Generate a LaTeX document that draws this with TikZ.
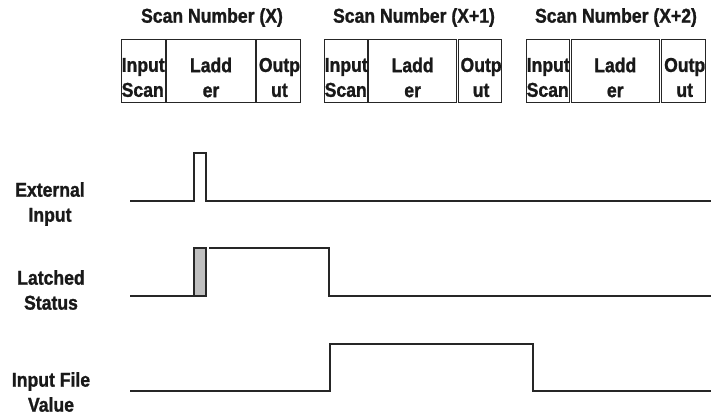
\documentclass[tikz,border=0pt]{standalone}
\usepackage{fontspec}
\setmainfont[FakeStretch=0.88, BoldFont={Liberation Sans Bold}, BoldFeatures={FakeStretch=0.88, FakeBold=1.2}]{Liberation Sans}
\newcommand{\lblfont}{\fontsize{20bp}{25bp}\selectfont\bfseries}
\begin{document}
\begin{tikzpicture}[x=1bp,y=-1bp,
  lbl/.style={font=\lblfont, align=center, inner sep=0pt, text=black!90},
  cellbox/.style={draw=black!85, line width=1bp, inner sep=0pt, minimum height=63bp},
  wave/.style={draw=black!85, line width=1.3bp},
  latchfill/.style={fill=black!25, draw=black!85, line width=1.3bp}]
\useasboundingbox (0,0) rectangle (711,415);

% titles
\node[lbl] (tx)  at (212,17.5) {Scan Number (X)};
\node[lbl] (tx1) at (414,17.5) {Scan Number (X+1)};
\node[lbl] (tx2) at (616,17.5) {Scan Number (X+2)};

% scan boxes
\foreach \n/\a/\b/\c/\d in {1/121/166/256/301, 2/324/368/458/503, 3/526/571/661/708}{
  \node[cellbox, minimum width=\b-\a bp, anchor=north west] (in\n) at (\a,39) {};
  \node[cellbox, minimum width=\c-\b bp, anchor=north west] (ld\n) at (\b,39) {};
  \node[cellbox, minimum width=\d-\c bp, anchor=north west] (ou\n) at (\c,39) {};
  \node[lbl, align=left, anchor=west] (tin\n) at ([xshift=0.5bp]in\n.west |- 0,77.5) {Input\\Scan};
  \node[lbl] (tld\n) at (ld\n.center |- 0,77.5) {Ladd\\er};
  \node[lbl] (tou\n) at ([xshift=1bp]ou\n.center |- 0,77.5) {Outp\\ut};
}

% signal labels
\node[lbl] (lext) at (50,204) {External\\Input};
\node[lbl] (llat) at (51,290) {Latched\\Status};
\node[lbl] (lifv) at (51,392) {Input File\\Value};

% External Input
\draw[wave] (130,201) -- (194,201) -- (194,153) -- (206,153) -- (206,201) -- (711,201);

% Latched Status
\draw[wave] (130,296) -- (194,296);
\draw[latchfill] (194,248) rectangle (206,296);
\draw[wave] (209,248) -- (329,248) -- (329,296) -- (711,296);

% Input File Value
\draw[wave] (130,391) -- (330,391) -- (330,344) -- (533,344) -- (533,391) -- (711,391);
\end{tikzpicture}
\end{document}
